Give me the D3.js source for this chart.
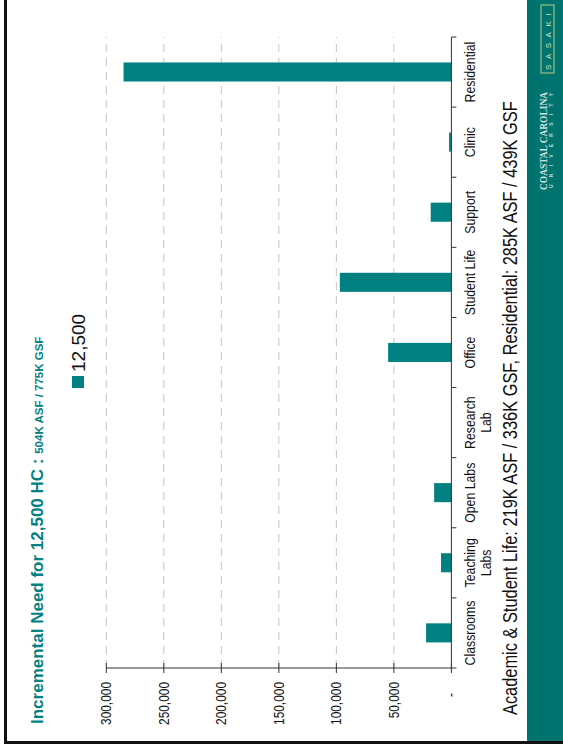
<!DOCTYPE html>
<html>
<head>
<meta charset="utf-8">
<script src="https://cdn.jsdelivr.net/npm/d3@7"></script>
<style>
  html, body { margin: 0; padding: 0; background: #ffffff; }
  svg { display: block; }
</style>
</head>
<body>
<script>
// ---- data ----
const categories = ["Classrooms", "Teaching Labs", "Open Labs", "Research Lab", "Office", "Student Life", "Support", "Clinic", "Residential"];
const categoryLines = [["Classrooms"], ["Teaching", "Labs"], ["Open Labs"], ["Research", "Lab"], ["Office"], ["Student Life"], ["Support"], ["Clinic"], ["Residential"]];
const values12500 = [22000, 9000, 15000, 0, 55000, 97000, 18000, 2000, 285000];
const tickValues = [0, 50000, 100000, 150000, 200000, 250000, 300000];
const tickLabels = ["-", "50,000", "100,000", "150,000", "200,000", "250,000", "300,000"];
const seriesName = "12,500";
const titleMain = "Incremental Need for 12,500 HC : ";
const titleSub = "504K ASF / 775K GSF";
const footerText = "Academic & Student Life: 219K ASF / 336K GSF, Residential: 285K ASF / 439K GSF";

// ---- page ----
const W = 563, H = 750;
const teal = "#008080";
const bandTeal = "#00736F";
const FONT = "Liberation Sans, Arial, sans-serif";
const NARROW = 0.82; // horizontal condensing to mimic Arial Narrow

const svg = d3.select("body").append("svg").attr("width", W).attr("height", H);
svg.append("rect").attr("width", W).attr("height", H).attr("fill", "#fff");

// landscape group: (X,Y) -> page (Y, 750 - X)
const g = svg.append("g").attr("transform", `translate(0,${H}) rotate(-90)`);

function narrowText(parent, px, py, size, anchor, lines, lineH) {
  const gg = parent.append("g").attr("transform", `translate(${px},${py}) scale(${NARROW},1)`);
  const t = gg.append("text").attr("x", 0).attr("y", 0)
    .attr("font-family", FONT).attr("font-size", size)
    .attr("text-anchor", anchor).attr("fill", "#111");
  lines.forEach((ln, j) => t.append("tspan").attr("x", 0).attr("dy", j === 0 ? 0 : lineH).text(ln));
  return t;
}

// right teal band (landscape: bottom strip)
g.append("rect").attr("x", 9).attr("y", 527).attr("width", H - 9).attr("height", W - 527).attr("fill", bandTeal);

// border lines
g.append("rect").attr("x", 6).attr("y", 4).attr("width", H - 6).attr("height", 3).attr("fill", "#111");
g.append("rect").attr("x", 6).attr("y", 4).attr("width", 3).attr("height", W - 4).attr("fill", "#111");

// scales
const x = d3.scaleBand().domain(categories).range([82, 713]).padding(0);
const y = d3.scaleLinear().domain([0, 300000]).range([451.4, 106.3]);

// gridlines
g.append("g").selectAll("line").data(tickValues.filter(v => v > 0)).join("line")
  .attr("x1", x.range()[0]).attr("x2", x.range()[1])
  .attr("y1", d => y(d)).attr("y2", d => y(d))
  .attr("stroke", "#c4c4c4").attr("stroke-width", 1).attr("stroke-dasharray", "8,6");

// bars
const bw = x.bandwidth();
g.append("g").selectAll("rect").data(categories).join("rect")
  .attr("x", d => x(d) + bw * 0.365)
  .attr("width", bw * 0.272)
  .attr("y", (d, i) => y(values12500[i]))
  .attr("height", (d, i) => y(0) - y(values12500[i]))
  .attr("fill", teal);

// value axis (landscape left)
const axisColor = "#333";
g.append("line").attr("x1", x.range()[0]).attr("x2", x.range()[0])
  .attr("y1", y(0)).attr("y2", y(300000)).attr("stroke", axisColor).attr("stroke-width", 1);
g.append("g").selectAll("line").data(tickValues).join("line")
  .attr("x1", x.range()[0] - 5).attr("x2", x.range()[0] + 5)
  .attr("y1", d => y(d)).attr("y2", d => y(d))
  .attr("stroke", axisColor).attr("stroke-width", 1);
const tickG = g.append("g");
tickValues.forEach((v, i) => {
  narrowText(tickG, v === 0 ? 57 : 68, y(v) + 5, 14.5, "end", [tickLabels[i]], 0);
});

// category axis (landscape bottom)
g.append("line").attr("x1", x.range()[0]).attr("x2", x.range()[1])
  .attr("y1", y(0)).attr("y2", y(0)).attr("stroke", axisColor).attr("stroke-width", 1);
const bounds = categories.map(c => x(c)).concat([x.range()[1]]);
g.append("g").selectAll("line").data(bounds).join("line")
  .attr("x1", d => d).attr("x2", d => d)
  .attr("y1", y(0)).attr("y2", y(0) + 5)
  .attr("stroke", axisColor).attr("stroke-width", 1);
const catG = g.append("g");
categories.forEach((c, i) => {
  narrowText(catG, x(c) + bw / 2, 474.5, 15, "middle", categoryLines[i], 16.5);
});

// title
const title = g.append("text").attr("x", 26).attr("y", 43)
  .attr("font-family", FONT).attr("font-weight", "bold").attr("fill", teal);
title.append("tspan").attr("font-size", 17).text(titleMain);
title.append("tspan").attr("font-size", 11.5).text(titleSub);

// legend
g.append("rect").attr("x", 362).attr("y", 72).attr("width", 12).attr("height", 12).attr("fill", teal);
g.append("text").attr("x", 378).attr("y", 84.5)
  .attr("font-family", FONT).attr("font-size", 19).attr("fill", "#111").text(seriesName);

// footer
narrowText(g, 35, 517, 20, "start", [footerText], 0);

// logos in band
g.append("rect").attr("x", 677).attr("y", 541).attr("width", 68).attr("height", 13)
  .attr("fill", "none").attr("stroke", "#b8c98a").attr("stroke-width", 1);
g.append("text").attr("x", 711).attr("y", 550.5).attr("text-anchor", "middle")
  .attr("font-family", FONT).attr("font-size", 8)
  .attr("fill", "#d8e2b0").attr("letter-spacing", 5.5).text("SASAKI");
g.append("text").attr("x", 560).attr("y", 546.5)
  .attr("font-family", "Liberation Serif, serif").attr("font-weight", "bold").attr("font-size", 9.5)
  .attr("fill", "#d6e0df").attr("textLength", 98).attr("lengthAdjust", "spacingAndGlyphs")
  .text("COASTAL CAROLINA");
g.append("text").attr("x", 562).attr("y", 553)
  .attr("font-family", FONT).attr("font-weight", "bold").attr("font-size", 5)
  .attr("fill", "#c8d6d4").attr("textLength", 95).attr("lengthAdjust", "spacing")
  .text("UNIVERSITY");
</script>
</body>
</html>
